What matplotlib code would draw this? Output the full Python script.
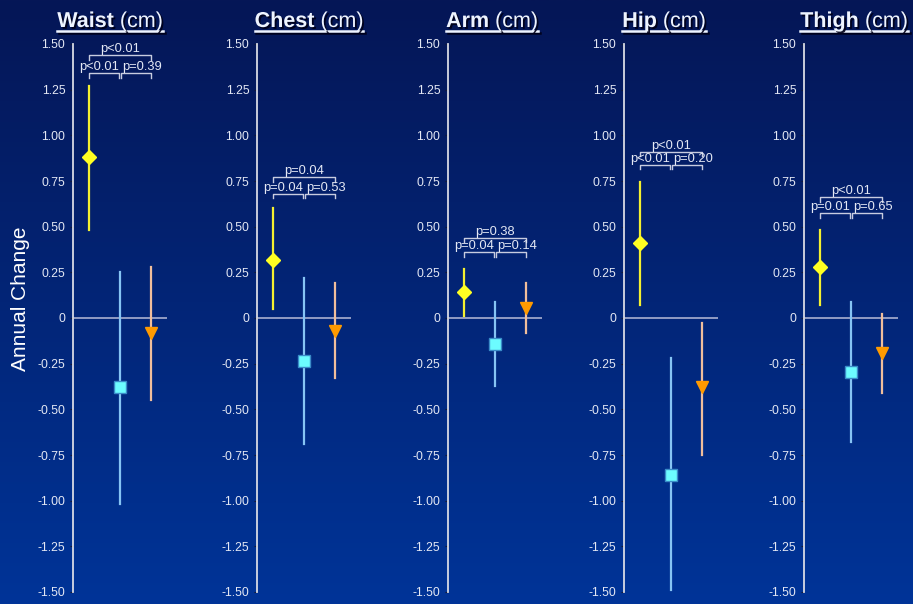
import numpy as np
import matplotlib
matplotlib.use("Agg")
import matplotlib.pyplot as plt
import matplotlib.patheffects as pe
from matplotlib.lines import Line2D
from matplotlib.ticker import FuncFormatter

plt.rcParams['font.family'] = ['Liberation Sans', 'DejaVu Sans']

# Measurements, one panel each
sites = ["Waist", "Chest", "Arm", "Hip", "Thigh"]

# Annual change and error bar ends for each group (yellow, cyan, orange)
yellow_mean = [0.88, 0.32, 0.14, 0.41, 0.28]
yellow_hi = [1.27, 0.60, 0.27, 0.745, 0.48]
yellow_lo = [0.48, 0.05, 0.01, 0.07, 0.07]

cyan_mean = [-0.38, -0.235, -0.14, -0.86, -0.295]
cyan_hi = [0.25, 0.22, 0.09, -0.22, 0.09]
cyan_lo = [-1.02, -0.69, -0.37, -1.49, -0.68]

orange_mean = [-0.08, -0.07, 0.055, -0.38, -0.19]
orange_hi = [0.28, 0.19, 0.19, -0.03, 0.02]
orange_lo = [-0.45, -0.33, -0.08, -0.75, -0.41]

# p-values: overall (yellow vs orange), yellow vs cyan, cyan vs orange
p_all = ["p<0.01", "p=0.04", "p=0.38", "p<0.01", "p<0.01"]
p_left = ["p<0.01", "p=0.04", "p=0.04", "p<0.01", "p=0.01"]
p_right = ["p=0.39", "p=0.53", "p=0.14", "p=0.20", "p=0.65"]
bracket_top = [1.44, 0.77, 0.44, 0.91, 0.66]
bracket_low = [1.34, 0.68, 0.36, 0.84, 0.575]

yticks = [1.5, 1.25, 1.0, 0.75, 0.5, 0.25, 0, -0.25, -0.5, -0.75, -1.0, -1.25, -1.5]

W, H = 913, 604
fig = plt.figure(figsize=(W / 100, H / 100), dpi=100)

# Blue gradient backdrop
bg = fig.add_axes([0, 0, 1, 1], zorder=-10)
top_c = np.array([5, 22, 86]) / 255
bot_c = np.array([0, 52, 152]) / 255
t = np.linspace(0, 1, 256)[:, None]
grad = top_c[None, :] * (1 - t) + bot_c[None, :] * t
bg.imshow(grad[:, None, :], aspect='auto', extent=[0, 1, 0, 1])
bg.axis('off')

axis_left_px = [73, 257, 448, 624, 804]
title_center_px = [110, 309, 492, 664, 854]
ax_w = 94 / W
ax_b = (H - 592) / H
ax_h = 548 / H

fg = '#E4E8F4'
bracket_c = '#C8CCE0'
xpos = [1, 3, 5]

for i, name in enumerate(sites):
    ax = fig.add_axes([axis_left_px[i] / W, ax_b, ax_w, ax_h])
    ax.patch.set_alpha(0)
    ax.set_xlim(0, 6)
    ax.set_ylim(-1.5, 1.5)
    for s in ['top', 'right', 'bottom']:
        ax.spines[s].set_visible(False)
    ax.spines['left'].set_color('#D8DAE4')
    ax.spines['left'].set_linewidth(1.3)
    ax.set_xticks([])
    ax.set_yticks(yticks)
    ax.yaxis.set_major_formatter(FuncFormatter(lambda v, p: "0" if v == 0 else f"{v:.2f}"))
    ax.tick_params(axis='y', colors='#101838', labelcolor=fg, labelsize=8.8, length=2.5, width=0.8, pad=3)

    ax.axhline(0, color='#B8BCD8', lw=1.1, zorder=1)

    # error bars
    ax.plot([xpos[0]] * 2, [yellow_lo[i], yellow_hi[i]], color='#F4F030', lw=1.6, zorder=2)
    ax.plot([xpos[1]] * 2, [cyan_lo[i], cyan_hi[i]], color='#86C4F4', lw=1.6, zorder=2)
    ax.plot([xpos[2]] * 2, [orange_lo[i], orange_hi[i]], color='#F0BE9C', lw=1.6, zorder=2)

    # group means
    ax.plot(xpos[0], yellow_mean[i], marker='D', ms=7.5, color='#FFFF22', mec='#FFFF22', zorder=3)
    ax.plot(xpos[1], cyan_mean[i], marker='s', ms=9, color='#6CFCFF', mec='#3A8CC8', mew=1, zorder=3)
    ax.plot(xpos[2], orange_mean[i], marker='v', ms=9, color='#FF9A00', mec='#FF9A00', zorder=3)

    # significance brackets
    tick = 0.025
    for x0, x1, yb in [(1, 5, bracket_top[i]), (1, 2.93, bracket_low[i]), (3.07, 5, bracket_low[i])]:
        ax.plot([x0, x0, x1, x1], [yb - tick, yb, yb, yb - tick], color=bracket_c, lw=1, clip_on=False)
    ax.annotate(p_all[i], (3, bracket_top[i]), xytext=(0, 0), textcoords='offset points',
                ha='center', va='bottom', fontsize=9.3, color=fg)
    ax.annotate(p_left[i], (2, bracket_low[i]), xytext=(-3.5, 0), textcoords='offset points',
                ha='center', va='bottom', fontsize=9.3, color=fg)
    ax.annotate(p_right[i], (4, bracket_low[i]), xytext=(4.5, 0), textcoords='offset points',
                ha='center', va='bottom', fontsize=9.3, color=fg)

# Titles: bold site name plus "(cm)", underlined, with a drop shadow
shadow = [pe.SimplePatchShadow(offset=(1.3, -1.3), shadow_rgbFace='#000018', alpha=0.9), pe.Normal()]
line_shadow = [pe.SimpleLineShadow(offset=(1.3, -1.3), shadow_color='#000018', alpha=0.9), pe.Normal()]
title_c = '#EEF4FF'
base_y = (H - 27) / H
renderer = fig.canvas.get_renderer()
for i, name in enumerate(sites):
    t1 = fig.text(0, base_y, name, fontsize=15.5, fontweight='bold', color=title_c,
                  va='baseline', ha='left', path_effects=shadow)
    t2 = fig.text(0, base_y, " (cm)", fontsize=15.5, color=title_c,
                  va='baseline', ha='left', path_effects=shadow)
    w1 = t1.get_window_extent(renderer).width
    w2 = t2.get_window_extent(renderer).width
    left = title_center_px[i] - (w1 + w2) / 2
    t1.set_x(left / W)
    t2.set_x((left + w1) / W)
    uy = (H - 31) / H
    fig.add_artist(Line2D([left / W, (left + w1 + w2) / W], [uy, uy], color=title_c,
                          lw=1.8, path_effects=line_shadow))

fig.text(20 / W, (H - 299) / H, "Annual Change", rotation=90, fontsize=15, color='white',
         ha='center', va='center')

fig.savefig("out.png", dpi=100)
